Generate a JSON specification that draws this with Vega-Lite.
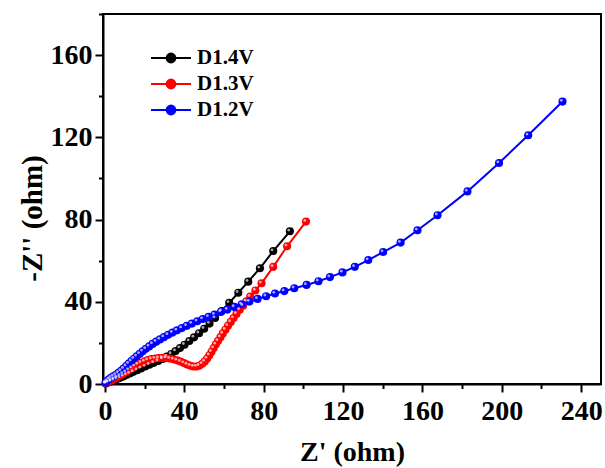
{
  "$schema": "https://vega.github.io/schema/vega-lite/v6.json",
  "width": 498,
  "height": 370,
  "autosize": {"type": "none"},
  "padding": {"left": 103, "top": 14, "right": 4, "bottom": 84},
  "background": "white",
  "config": {
    "view": {"stroke": "black", "strokeWidth": 2},
    "axis": {
      "grid": false,
      "domainColor": "black",
      "domainWidth": 2,
      "tickColor": "black",
      "tickWidth": 2,
      "labelFont": "Liberation Serif",
      "labelFontWeight": "bold",
      "labelFontSize": 28,
      "labelColor": "black",
      "titleFont": "Liberation Serif",
      "titleFontWeight": "bold",
      "titleFontSize": 28,
      "titleColor": "black"
    },
    "legend": {
      "labelFont": "Liberation Serif",
      "labelFontWeight": "bold",
      "labelFontSize": 21,
      "labelColor": "black"
    }
  },
  "data": {
    "values": [
      {"s": "D1.4V", "x": 0.5, "y": 0.3}, {"s": "D1.4V", "x": 1.5, "y": 0.7}, {"s": "D1.4V", "x": 3, "y": 1.2}, {"s": "D1.4V", "x": 4.5, "y": 1.8}, {"s": "D1.4V", "x": 6, "y": 2.4}, {"s": "D1.4V", "x": 7.6, "y": 3.0}, {"s": "D1.4V", "x": 9.2, "y": 3.7}, {"s": "D1.4V", "x": 10.8, "y": 4.4}, {"s": "D1.4V", "x": 12.5, "y": 5.1}, {"s": "D1.4V", "x": 14.3, "y": 5.9}, {"s": "D1.4V", "x": 16.2, "y": 6.7}, {"s": "D1.4V", "x": 18.2, "y": 7.6}, {"s": "D1.4V", "x": 20.3, "y": 8.5}, {"s": "D1.4V", "x": 22.4, "y": 9.4}, {"s": "D1.4V", "x": 24.6, "y": 10.3}, {"s": "D1.4V", "x": 26.8, "y": 11.2}, {"s": "D1.4V", "x": 29, "y": 12.2}, {"s": "D1.4V", "x": 31.2, "y": 13.3}, {"s": "D1.4V", "x": 33.4, "y": 14.6}, {"s": "D1.4V", "x": 35.6, "y": 16.0}, {"s": "D1.4V", "x": 37.8, "y": 17.5}, {"s": "D1.4V", "x": 40.1, "y": 19.1}, {"s": "D1.4V", "x": 42.5, "y": 20.9}, {"s": "D1.4V", "x": 44.9, "y": 22.7}, {"s": "D1.4V", "x": 47.4, "y": 24.7}, {"s": "D1.4V", "x": 50.0, "y": 26.9}, {"s": "D1.4V", "x": 52.7, "y": 29.4}, {"s": "D1.4V", "x": 55.5, "y": 32.1}, {"s": "D1.4V", "x": 58.8, "y": 35.5}, {"s": "D1.4V", "x": 62.6, "y": 39.5}, {"s": "D1.4V", "x": 67.2, "y": 44.4}, {"s": "D1.4V", "x": 72.2, "y": 49.8}, {"s": "D1.4V", "x": 78.1, "y": 56.3}, {"s": "D1.4V", "x": 84.8, "y": 64.7}, {"s": "D1.4V", "x": 93.2, "y": 74.3},
      {"s": "D1.3V", "x": 0.3, "y": 0.3}, {"s": "D1.3V", "x": 1.5, "y": 0.9}, {"s": "D1.3V", "x": 3, "y": 1.6}, {"s": "D1.3V", "x": 4.5, "y": 2.4}, {"s": "D1.3V", "x": 6, "y": 3.2}, {"s": "D1.3V", "x": 7.5, "y": 4.0}, {"s": "D1.3V", "x": 9, "y": 4.9}, {"s": "D1.3V", "x": 10.5, "y": 5.8}, {"s": "D1.3V", "x": 12, "y": 6.8}, {"s": "D1.3V", "x": 13.5, "y": 7.7}, {"s": "D1.3V", "x": 15, "y": 8.6}, {"s": "D1.3V", "x": 16.6, "y": 9.5}, {"s": "D1.3V", "x": 18.2, "y": 10.3}, {"s": "D1.3V", "x": 19.9, "y": 11.0}, {"s": "D1.3V", "x": 21.6, "y": 11.6}, {"s": "D1.3V", "x": 23.4, "y": 12.1}, {"s": "D1.3V", "x": 25.2, "y": 12.4}, {"s": "D1.3V", "x": 27, "y": 12.6}, {"s": "D1.3V", "x": 28.9, "y": 12.7}, {"s": "D1.3V", "x": 30.8, "y": 12.6}, {"s": "D1.3V", "x": 32.7, "y": 12.4}, {"s": "D1.3V", "x": 34.5, "y": 12.0}, {"s": "D1.3V", "x": 36.3, "y": 11.5}, {"s": "D1.3V", "x": 38.1, "y": 10.9}, {"s": "D1.3V", "x": 39.8, "y": 10.2}, {"s": "D1.3V", "x": 41.4, "y": 9.5}, {"s": "D1.3V", "x": 43, "y": 8.9}, {"s": "D1.3V", "x": 44.6, "y": 8.5}, {"s": "D1.3V", "x": 46.1, "y": 8.5}, {"s": "D1.3V", "x": 47.5, "y": 8.9}, {"s": "D1.3V", "x": 49, "y": 9.8}, {"s": "D1.3V", "x": 50.3, "y": 11.0}, {"s": "D1.3V", "x": 51.5, "y": 12.4}, {"s": "D1.3V", "x": 52.6, "y": 14.0}, {"s": "D1.3V", "x": 53.7, "y": 15.7}, {"s": "D1.3V", "x": 54.8, "y": 17.5}, {"s": "D1.3V", "x": 55.9, "y": 19.3}, {"s": "D1.3V", "x": 57, "y": 21.0}, {"s": "D1.3V", "x": 58.2, "y": 22.8}, {"s": "D1.3V", "x": 59.4, "y": 24.6}, {"s": "D1.3V", "x": 60.7, "y": 26.4}, {"s": "D1.3V", "x": 62, "y": 28.3}, {"s": "D1.3V", "x": 63.4, "y": 30.2}, {"s": "D1.3V", "x": 64.8, "y": 32.1}, {"s": "D1.3V", "x": 66.3, "y": 34.1}, {"s": "D1.3V", "x": 67.9, "y": 36.1}, {"s": "D1.3V", "x": 69.6, "y": 38.1}, {"s": "D1.3V", "x": 71.3, "y": 40.2}, {"s": "D1.3V", "x": 73.2, "y": 42.5}, {"s": "D1.3V", "x": 75.8, "y": 45.5}, {"s": "D1.3V", "x": 78.9, "y": 49}, {"s": "D1.3V", "x": 84.8, "y": 57}, {"s": "D1.3V", "x": 91.8, "y": 67}, {"s": "D1.3V", "x": 101.3, "y": 79},
      {"s": "D1.2V", "x": 0.3, "y": 0.6}, {"s": "D1.2V", "x": 1, "y": 1.4}, {"s": "D1.2V", "x": 2, "y": 2.3}, {"s": "D1.2V", "x": 3, "y": 3.0}, {"s": "D1.2V", "x": 4.2, "y": 3.7}, {"s": "D1.2V", "x": 5.5, "y": 4.5}, {"s": "D1.2V", "x": 6.8, "y": 5.4}, {"s": "D1.2V", "x": 8.1, "y": 6.4}, {"s": "D1.2V", "x": 9.4, "y": 7.5}, {"s": "D1.2V", "x": 10.7, "y": 8.7}, {"s": "D1.2V", "x": 12, "y": 9.9}, {"s": "D1.2V", "x": 13.3, "y": 11.1}, {"s": "D1.2V", "x": 14.6, "y": 12.3}, {"s": "D1.2V", "x": 16, "y": 13.5}, {"s": "D1.2V", "x": 17.5, "y": 14.7}, {"s": "D1.2V", "x": 19, "y": 15.9}, {"s": "D1.2V", "x": 20.6, "y": 17.1}, {"s": "D1.2V", "x": 22.3, "y": 18.3}, {"s": "D1.2V", "x": 24, "y": 19.5}, {"s": "D1.2V", "x": 25.8, "y": 20.6}, {"s": "D1.2V", "x": 27.7, "y": 21.7}, {"s": "D1.2V", "x": 29.7, "y": 22.8}, {"s": "D1.2V", "x": 31.8, "y": 23.9}, {"s": "D1.2V", "x": 34, "y": 25}, {"s": "D1.2V", "x": 36.3, "y": 26.1}, {"s": "D1.2V", "x": 38.7, "y": 27.2}, {"s": "D1.2V", "x": 41.2, "y": 28.3}, {"s": "D1.2V", "x": 43.8, "y": 29.4}, {"s": "D1.2V", "x": 46.5, "y": 30.5}, {"s": "D1.2V", "x": 49.3, "y": 31.6}, {"s": "D1.2V", "x": 52.2, "y": 32.7}, {"s": "D1.2V", "x": 55.2, "y": 33.8}, {"s": "D1.2V", "x": 58.4, "y": 35}, {"s": "D1.2V", "x": 61.7, "y": 36.2}, {"s": "D1.2V", "x": 65.2, "y": 37.5}, {"s": "D1.2V", "x": 68.9, "y": 38.8}, {"s": "D1.2V", "x": 72.8, "y": 40.1}, {"s": "D1.2V", "x": 76.9, "y": 41.4}, {"s": "D1.2V", "x": 81.2, "y": 42.7}, {"s": "D1.2V", "x": 85.7, "y": 44}, {"s": "D1.2V", "x": 90.4, "y": 45.2}, {"s": "D1.2V", "x": 95.4, "y": 46.6}, {"s": "D1.2V", "x": 101.6, "y": 48.2}, {"s": "D1.2V", "x": 107.6, "y": 50}, {"s": "D1.2V", "x": 113.4, "y": 52}, {"s": "D1.2V", "x": 119.7, "y": 54.3}, {"s": "D1.2V", "x": 125.9, "y": 57}, {"s": "D1.2V", "x": 132.7, "y": 60.3}, {"s": "D1.2V", "x": 140.2, "y": 64.2}, {"s": "D1.2V", "x": 149, "y": 68.8}, {"s": "D1.2V", "x": 157.5, "y": 74.8}, {"s": "D1.2V", "x": 167.6, "y": 82.1}, {"s": "D1.2V", "x": 182.7, "y": 93.7}, {"s": "D1.2V", "x": 198.6, "y": 107.5}, {"s": "D1.2V", "x": 213.3, "y": 121}, {"s": "D1.2V", "x": 230.6, "y": 137.4}
    ]
  },
  "encoding": {
    "x": {
      "field": "x", "type": "quantitative",
      "scale": {"domain": [-1, 250], "nice": false, "zero": false},
      "axis": {
        "title": "Z' (ohm)",
        "values": [0, 20, 40, 60, 80, 100, 120, 140, 160, 180, 200, 220, 240],
        "labelExpr": "datum.value % 40 === 0 ? datum.label : ''",
        "tickSize": {"condition": {"test": "datum.value % 40 === 0", "value": 8}, "value": 4.5},
        "labelPadding": 5,
        "titlePadding": 13,
        "labelFlush": false
      }
    },
    "y": {
      "field": "y", "type": "quantitative",
      "scale": {"domain": [0, 180], "nice": false},
      "axis": {
        "title": "-Z'' (ohm)",
        "titleFontSize": 29,
        "titleY": 204,
        "values": [0, 20, 40, 60, 80, 100, 120, 140, 160, 180],
        "labelExpr": "datum.value % 40 === 0 ? datum.label : ''",
        "tickSize": {"condition": {"test": "datum.value % 40 === 0", "value": 8}, "value": 4.5},
        "labelPadding": 3,
        "titlePadding": 3,
        "labelFlush": false
      }
    },
    "color": {
      "field": "s", "type": "nominal",
      "scale": {"domain": ["D1.4V", "D1.3V", "D1.2V"], "range": ["#000000", "#ff0000", "#0000ff"]},
      "legend": {
        "title": null,
        "orient": "none",
        "legendX": 57,
        "legendY": 33,
        "symbolType": "M-2,0H-0.44M0.44,0H2M0.44,0A0.44,0.44,0,1,1,-0.44,0A0.44,0.44,0,1,1,0.44,0",
        "symbolSize": 400,
        "symbolStrokeWidth": 2,
        "symbolFillColor": null,
        "rowPadding": 5,
        "labelOffset": 15
      }
    }
  },
  "layer": [
    {"mark": {"type": "line", "strokeWidth": 2}},
    {"mark": {"type": "point", "filled": true, "size": 66, "opacity": 1}},
    {"mark": {"type": "point", "filled": true, "size": 8, "opacity": 0.65, "xOffset": -1.2, "yOffset": -1.2}, "encoding": {"color": {"value": "white"}}}
  ]
}
